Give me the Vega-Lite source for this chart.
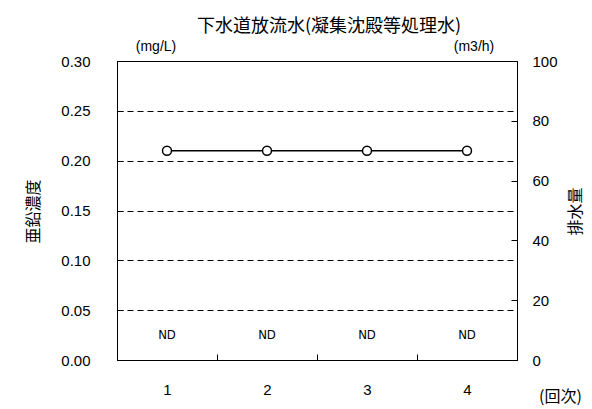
{
  "$schema": "https://vega.github.io/schema/vega-lite/v6.json",
  "width": 400,
  "height": 299,
  "autosize": {"type": "none"},
  "padding": {"left": 117, "top": 61, "right": 75, "bottom": 49},
  "background": "white",
  "title": {"text": "下水道放流水(凝集沈殿等処理水)", "font": "Noto Sans CJK JP", "fontSize": 18, "fontWeight": "normal", "color": "black", "offset": 4, "dx": 12},
  "config": {
    "view": {"stroke": "black", "strokeWidth": 1},
    "axis": {"domainColor": "black", "tickColor": "black", "labelColor": "black", "titleColor": "black", "labelFont": "Liberation Sans", "labelFontSize": 15, "titleFont": "Noto Sans CJK JP", "titleFontSize": 16, "titleFontWeight": "normal"}
  },
  "data": {"values": [
    {"run": "1", "flow": 70, "zinc": "ND"},
    {"run": "2", "flow": 70, "zinc": "ND"},
    {"run": "3", "flow": 70, "zinc": "ND"},
    {"run": "4", "flow": 70, "zinc": "ND"}
  ]},
  "encoding": {
    "x": {"field": "run", "type": "ordinal", "scale": {"type": "band", "paddingInner": 0, "paddingOuter": 0},
      "axis": {"labelAngle": 0, "tickBand": "extent", "tickSize": -6, "labelPadding": 28, "title": "(回次)", "titleX": 443, "titleY": 36, "titleAlign": "center", "titleBaseline": "middle", "titleAngle": 0}}
  },
  "layer": [
    {
      "mark": {"type": "text", "font": "DejaVu Sans Condensed", "fontSize": 13, "fontWeight": "normal", "color": "black"},
      "encoding": {
        "text": {"field": "zinc"},
        "y": {"datum": 0.025, "type": "quantitative", "scale": {"domain": [0, 0.3]},
          "axis": {"orient": "left", "title": "亜鉛濃度", "values": [0, 0.05, 0.1, 0.15, 0.2, 0.25, 0.3], "format": ".2f", "grid": true, "gridColor": "black", "gridDash": [6, 4], "gridWidth": 1, "tickSize": -6, "labelPadding": 33, "titleX": -84, "titleY": 150, "titleAngle": -90, "titleAlign": "center", "titleBaseline": "middle"}}
      }
    },
    {
      "data": {"values": [{"unit": "(mg/L)", "side": "1"}]},
      "mark": {"type": "text", "font": "Liberation Sans", "fontSize": 14, "fontWeight": "normal", "color": "black", "dx": -11, "dy": -14},
      "encoding": {
        "text": {"field": "unit"},
        "x": {"field": "side", "type": "ordinal"},
        "y": {"datum": 0.3, "type": "quantitative", "scale": {"domain": [0, 0.3]}, "axis": null}
      }
    },
    {
      "data": {"values": [{"unit": "(m3/h)", "side": "4"}]},
      "mark": {"type": "text", "font": "Liberation Sans", "fontSize": 14, "fontWeight": "normal", "color": "black", "dx": 7, "dy": -14},
      "encoding": {
        "text": {"field": "unit"},
        "x": {"field": "side", "type": "ordinal"},
        "y": {"datum": 0.3, "type": "quantitative", "scale": {"domain": [0, 0.3]}, "axis": null}
      }
    },
    {
      "mark": {"type": "line", "color": "black", "strokeWidth": 1.5, "point": {"filled": true, "fill": "white", "stroke": "black", "strokeWidth": 1.5, "size": 80}},
      "encoding": {
        "y": {"field": "flow", "type": "quantitative", "scale": {"domain": [0, 100]},
          "axis": {"orient": "right", "title": "排水量", "values": [0, 20, 40, 60, 80, 100], "grid": false, "tickSize": -6, "labelPadding": 21, "titleX": 58, "titleY": 150, "titleAngle": -90, "titleAlign": "center", "titleBaseline": "middle"}}
      }
    }
  ],
  "resolve": {"scale": {"y": "independent"}}
}
